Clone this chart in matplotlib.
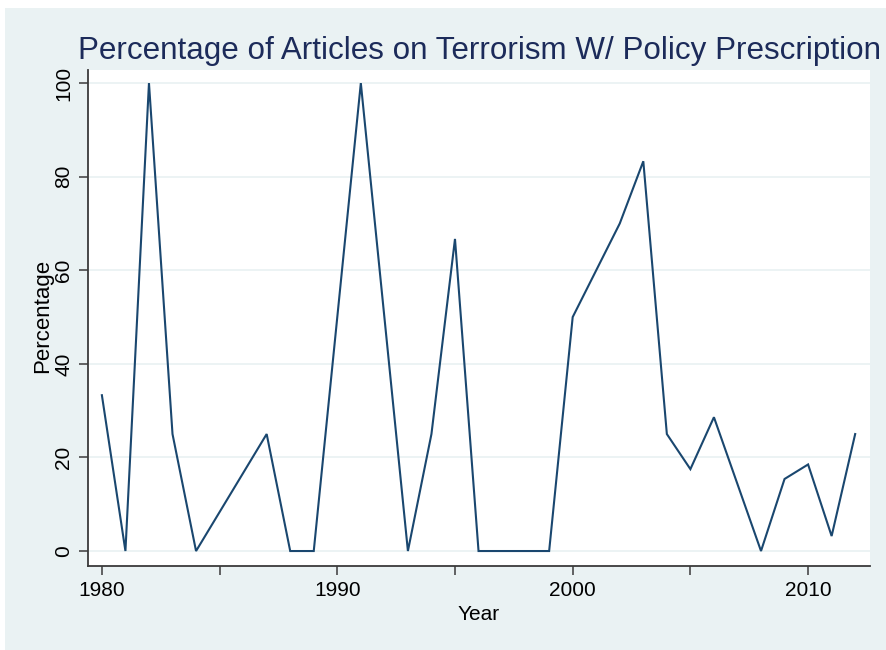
import matplotlib
matplotlib.use("Agg")
import matplotlib.pyplot as plt
from matplotlib.patches import Rectangle

# Share of terrorism articles carrying a policy prescription, by year
years = [1980, 1981, 1982, 1983, 1984, 1987, 1988, 1989, 1991, 1993, 1994,
         1995, 1996, 1999, 2000, 2002, 2003, 2004, 2005, 2006, 2007, 2008,
         2009, 2010, 2011, 2012]
percentage = [33.3, 0, 100, 25, 0, 25, 0, 0, 100, 0, 25,
              66.7, 0, 0, 50, 70, 83.3, 25, 17.5, 28.6, 14.3, 0,
              15.4, 18.5, 3.2, 25]

x_major = [1980, 1990, 2000, 2010]
x_minor = [1985, 1995, 2005]
y_ticks = [0, 20, 40, 60, 80, 100]

title = "Percentage of Articles on Terrorism W/ Policy Prescription"
x_title = "Year"
y_title = "Percentage"

BG = "#EAF2F3"
LINE = "#1A476F"
TITLE_C = "#1C2B5A"
AXIS_C = "#3A3A3A"

plt.rcParams["font.family"] = ["Liberation Sans", "DejaVu Sans"]

W, H = 887, 650
fig = plt.figure(figsize=(W / 100, H / 100), dpi=100, facecolor="white")
fig.patches.append(Rectangle((5 / W, 0), 1 - 5 / W, (H - 8) / H,
                             transform=fig.transFigure, facecolor=BG,
                             edgecolor="none", zorder=-10))

left, right, top, bottom = 88, 870, 70, 566
ax = fig.add_axes([left / W, (H - bottom) / H, (right - left) / W, (bottom - top) / H])
ax.set_facecolor("white")

ax.plot(years, percentage, color=LINE, lw=1.5, solid_joinstyle="miter", zorder=3)

ax.set_xlim(1979.41, 2012.63)
ax.set_ylim(-3.2, 102.8)

ax.set_xticks(x_major)
ax.set_xticks(x_minor, minor=True)
ax.set_yticks(y_ticks)
ax.set_yticklabels([str(v) for v in y_ticks], rotation=90, va="center")

for s in ("top", "right"):
    ax.spines[s].set_visible(False)
for s in ("left", "bottom"):
    ax.spines[s].set_color(AXIS_C)
    ax.spines[s].set_linewidth(1.3)

ax.tick_params(axis="both", which="both", direction="out", length=6.5,
               width=1.1, color=AXIS_C, labelsize=15, labelcolor="black")
ax.tick_params(axis="x", which="both", pad=4)
ax.tick_params(axis="y", pad=4)

ax.grid(axis="y", color=BG, lw=1.3, zorder=0)
ax.set_axisbelow(True)

ax.set_title(title, fontsize=22.6, color=TITLE_C, pad=8)
ax.set_xlabel(x_title, fontsize=15, labelpad=4)
ax.set_ylabel(y_title, fontsize=16)
ax.yaxis.set_label_coords(-0.044, 0.505)

fig.savefig("out.png", dpi=100, facecolor="white")
